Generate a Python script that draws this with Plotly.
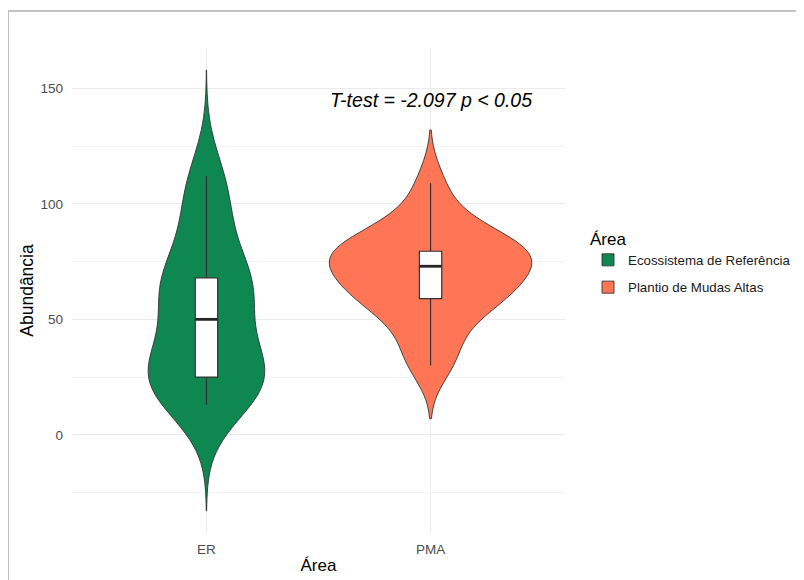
import numpy as np
import plotly.graph_objects as go

# ---- data ----
categories = ["ER", "PMA"]
group_names = ["Ecossistema de Referência", "Plantio de Mudas Altas"]
er_values = [13, 18, 22, 25, 28, 33, 42, 58, 62, 66, 68, 84, 100, 112]
pma_values = [30, 35, 46, 53, 57, 61, 62, 64, 66, 70, 76, 77, 78, 79, 79, 80, 84, 89, 95, 109]
group_values = [er_values, pma_values]
bandwidths = [15.5, 10.0]      # kernel bandwidths of the violins
tail_extension = [46.0, 23.0]  # how far each violin reaches past its data
colors = ["#0E8750", "#FF7656"]
y_ticks = [0, 50, 100, 150]
annotation_text = "T-test = -2.097 p < 0.05"
annotation_y = 145

FONT = "Liberation Sans, Arial, sans-serif"


def kde_max(x, bw, lo, hi):
    x = np.asarray(x, float)
    grid = np.linspace(lo, hi, 600)
    d = np.exp(-0.5 * ((grid[:, None] - x[None, :]) / bw) ** 2).sum(1)
    d /= len(x) * bw * np.sqrt(2 * np.pi)
    return d.max()


positions = list(range(len(categories)))
spans, dmax = [], []
for vals, bw, ext in zip(group_values, bandwidths, tail_extension):
    lo, hi = min(vals) - ext, max(vals) + ext
    spans.append([lo, hi])
    dmax.append(kde_max(vals, bw, lo, hi))
# area scaling: the violin with the highest density peak gets width 0.9
widths = [0.9 * m / max(dmax) for m in dmax]
box_w = 0.1

fig = go.Figure()
for i, vals in enumerate(group_values):
    fig.add_trace(go.Violin(
        x=[positions[i]] * len(vals), y=vals, name=group_names[i],
        legendgroup=group_names[i],
        fillcolor=colors[i], opacity=1,
        line=dict(color="#333333", width=0.9),
        bandwidth=bandwidths[i], spanmode="manual", span=spans[i],
        scalemode="width", width=widths[i], points=False,
        box=dict(visible=True, width=box_w / widths[i], fillcolor="white",
                 line=dict(color="#333333", width=1.2)),
        meanline=dict(visible=False),
        hoverinfo="skip",
    ))

for i, vals in enumerate(group_values):
    med = float(np.median(vals))
    fig.add_trace(go.Scatter(
        x=[positions[i] - box_w / 2, positions[i] + box_w / 2], y=[med, med],
        mode="lines", line=dict(color="#262626", width=2.8),
        showlegend=False, hoverinfo="skip",
    ))

ylo = min(s[0] for s in spans)
yhi = max(s[1] for s in spans)
pad = 0.05 * (yhi - ylo)

fig.add_annotation(
    x=positions[1], y=annotation_y, text="<i>" + annotation_text + "</i>",
    showarrow=False, font=dict(family=FONT, size=19.5, color="black"),
    xanchor="center", yanchor="middle",
)

# light grey frame around the figure
fig.add_shape(type="rect", xref="paper", yref="paper",
              x0=-0.1298, x1=1.55, y0=-0.25, y1=1.0763,
              line=dict(color="#b0b0b0", width=1.6), fillcolor="rgba(0,0,0,0)",
              layer="below")

fig.update_layout(
    width=804, height=580,
    margin=dict(l=64, r=247, t=40, b=55, autoexpand=False),
    paper_bgcolor="white", plot_bgcolor="white",
    violinmode="overlay",
    font=dict(family=FONT, color="black"),
    showlegend=True,
    legend=dict(
        title=dict(text="Área", font=dict(size=17, color="black")),
        font=dict(size=13.3, color="#1a1a1a"),
        x=1.0467, xanchor="left", y=0.64, yanchor="top",
        bgcolor="rgba(0,0,0,0)", tracegroupgap=7,
    ),
    xaxis=dict(
        range=[-0.6, len(categories) - 1 + 0.6],
        tickmode="array", tickvals=positions, ticktext=categories,
        showgrid=True, gridcolor="#ebebeb", gridwidth=1,
        zeroline=False, showline=False, ticks="", automargin=False,
        tickfont=dict(size=13.5, color="#4d4d4d"),
        ticklabelstandoff=6,
        title=dict(text="Área", font=dict(size=17, color="black"), standoff=3),
    ),
    yaxis=dict(
        range=[ylo - pad, yhi + pad],
        tickmode="array", tickvals=y_ticks,
        showgrid=True, gridcolor="#ebebeb", gridwidth=1,
        minor=dict(dtick=25, tick0=0, showgrid=True, gridcolor="#f3f3f3", gridwidth=0.8),
        zeroline=False, showline=False, ticks="", automargin=False,
        tickfont=dict(size=13.5, color="#4d4d4d"),
        ticklabelstandoff=8,
        title=dict(text="Abundância", font=dict(size=17.5, color="black"), standoff=2),
    ),
)

fig.write_html("out.html")
